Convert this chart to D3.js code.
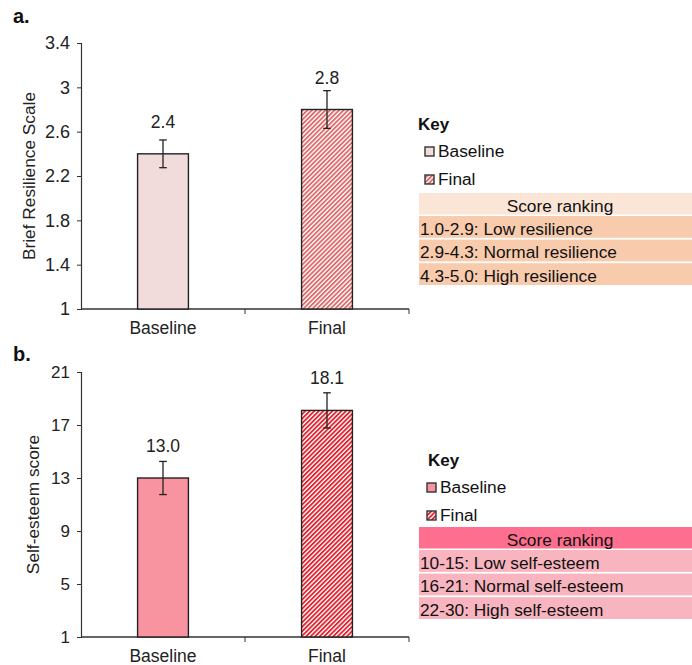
<!DOCTYPE html>
<html><head><meta charset="utf-8">
<script src="https://cdn.jsdelivr.net/npm/d3@7"></script>
<style>
body{margin:0;background:#fff;}
svg{font-family:"Liberation Sans",Arial,sans-serif;}
</style></head>
<body>
<svg id="chart" width="692" height="665"></svg>
<script>
const categories = ["Baseline", "Final"];
const resilienceValues = [2.4, 2.8];
const resilienceErrors = [0.125, 0.17];
const resilienceLabels = ["2.4", "2.8"];
const resilienceTicks = [1, 1.4, 1.8, 2.2, 2.6, 3, 3.4];
const resilienceRanking = ["1.0-2.9: Low resilience", "2.9-4.3: Normal resilience", "4.3-5.0: High resilience"];

const esteemValues = [13.0, 18.1];
const esteemErrors = [1.25, 1.33];
const esteemLabels = ["13.0", "18.1"];
const esteemTicks = [1, 5, 9, 13, 17, 21];
const esteemRanking = ["10-15: Low self-esteem", "16-21: Normal self-esteem", "22-30: High self-esteem"];

const svg = d3.select("#chart");
const defs = svg.append("defs");
function hatch(id, color) {
  const p = defs.append("pattern").attr("id", id).attr("patternUnits", "userSpaceOnUse")
    .attr("width", 3.2).attr("height", 3.2).attr("patternTransform", "rotate(45)");
  p.append("rect").attr("width", 3.2).attr("height", 3.2).attr("fill", "#fff");
  p.append("rect").attr("width", 1.8).attr("height", 3.2).attr("fill", color);
}
hatch("hatchA", "#e06868");
hatch("hatchB", "#e3202b");

function panel(cfg) {
  const g = svg.append("g");
  const x = d3.scaleBand().domain(categories).range([81, 409]).paddingInner(0.69).paddingOuter(0.345);
  const y = d3.scaleLinear().domain([cfg.ticks[0], cfg.ticks[cfg.ticks.length - 1]]).range([cfg.bottom, cfg.top]);

  g.append("text").attr("x", 13).attr("y", cfg.labelY).attr("font-size", 20).attr("font-weight", "bold").attr("fill", "#111").text(cfg.panelLabel);

  // y axis
  const ya = g.append("g").attr("transform", "translate(81,0)")
    .call(d3.axisLeft(y).tickValues(cfg.ticks).tickSize(4).tickFormat(d => String(d)));
  ya.attr("font-size", null).attr("font-family", null);
  ya.select(".domain").attr("stroke", "#333").attr("stroke-width", 1.2);
  ya.selectAll(".tick line").attr("stroke", "#333");
  ya.selectAll(".tick text").attr("font-size", cfg.tickFont).attr("fill", "#222").attr("x", -11);

  // x axis
  const xa = g.append("g").attr("transform", `translate(0,${cfg.bottom})`);
  xa.append("line").attr("x1", 81).attr("x2", 409).attr("y1", 0).attr("y2", 0).attr("stroke", "#333").attr("stroke-width", 1.4);
  const step = x.step();
  [81 + step, 81 + 2 * step].forEach(t => {
    xa.append("line").attr("x1", t).attr("x2", t).attr("y1", 0).attr("y2", 5).attr("stroke", "#333");
  });
  categories.forEach(c => {
    xa.append("text").attr("x", x(c) + x.bandwidth() / 2).attr("y", 25).attr("text-anchor", "middle")
      .attr("font-size", 17.5).attr("fill", "#222").text(c);
  });

  // y title
  g.append("text").attr("transform", `translate(${cfg.titleX},${(cfg.top + cfg.bottom) / 2}) rotate(-90)`)
    .attr("text-anchor", "middle").attr("font-size", 17.3).attr("fill", "#222").text(cfg.title);

  // bars
  categories.forEach((c, i) => {
    const v = cfg.values[i];
    g.append("rect").attr("x", x(c)).attr("y", y(v)).attr("width", x.bandwidth()).attr("height", y(cfg.ticks[0]) - y(v))
      .attr("fill", i === 0 ? cfg.baseColor : `url(#${cfg.hatch})`).attr("stroke", "#222").attr("stroke-width", 1.4);
    const cx = x(c) + x.bandwidth() / 2;
    const e = cfg.errors[i];
    g.append("line").attr("x1", cx).attr("x2", cx).attr("y1", y(v + e)).attr("y2", y(v - e)).attr("stroke", "#222").attr("stroke-width", 1.3);
    [v + e, v - e].forEach(w => g.append("line").attr("x1", cx - 3.8).attr("x2", cx + 3.8).attr("y1", y(w)).attr("y2", y(w)).attr("stroke", "#222").attr("stroke-width", 1.3));
    g.append("text").attr("x", cx).attr("y", y(v) - 26).attr("text-anchor", "middle").attr("font-size", 17.5).attr("fill", "#222").text(cfg.labels[i]);
  });

  // legend
  const lg = g.append("g");
  lg.append("text").attr("x", cfg.keyX).attr("y", cfg.keyY).attr("font-size", 17).attr("font-weight", "bold").attr("fill", "#111").text("Key");
  categories.forEach((c, i) => {
    const yy = cfg.keyY + 27 + i * 28;
    lg.append("rect").attr("x", cfg.swX).attr("y", yy - 10).attr("width", 9).attr("height", 9)
      .attr("fill", i === 0 ? cfg.baseColor : `url(#${cfg.hatch})`).attr("stroke", "#333").attr("stroke-width", 1.4);
    lg.append("text").attr("x", cfg.swX + 13).attr("y", yy).attr("font-size", 17.3).attr("fill", "#111").text(c);
  });
  const ty = cfg.tableTop;
  lg.append("rect").attr("x", 419).attr("y", ty).attr("width", 273).attr("height", 21.5).attr("fill", cfg.headColor);
  lg.append("text").attr("x", 560).attr("y", ty + 18.5).attr("text-anchor", "middle").attr("font-size", 17.3).attr("fill", "#111").text("Score ranking");
  cfg.ranking.forEach((r, i) => {
    const ry = ty + 23 + i * 23.6;
    lg.append("rect").attr("x", 419).attr("y", ry).attr("width", 273).attr("height", 21.8).attr("fill", cfg.rowColor);
    lg.append("text").attr("x", 420).attr("y", ry + 18.5).attr("font-size", 17.3).attr("fill", "#111").text(r);
  });
}

panel({
  panelLabel: "a.", labelY: 23, top: 43, bottom: 309, ticks: resilienceTicks, tickFont: 18,
  values: resilienceValues, errors: resilienceErrors, labels: resilienceLabels,
  title: "Brief Resilience Scale", titleX: 35,
  baseColor: "#f2dcdb", hatch: "hatchA",
  keyX: 418, swX: 425, keyY: 130, tableTop: 193, headColor: "#fbe5d6", rowColor: "#f8cbad", ranking: resilienceRanking
});
panel({
  panelLabel: "b.", labelY: 361, top: 372, bottom: 637, ticks: esteemTicks, tickFont: 17,
  values: esteemValues, errors: esteemErrors, labels: esteemLabels,
  title: "Self-esteem score", titleX: 39,
  baseColor: "#f7949f", hatch: "hatchB",
  keyX: 428, swX: 427, keyY: 466, tableTop: 527, headColor: "#fe6f8f", rowColor: "#f8b4bf", ranking: esteemRanking
});
</script>
</body></html>
